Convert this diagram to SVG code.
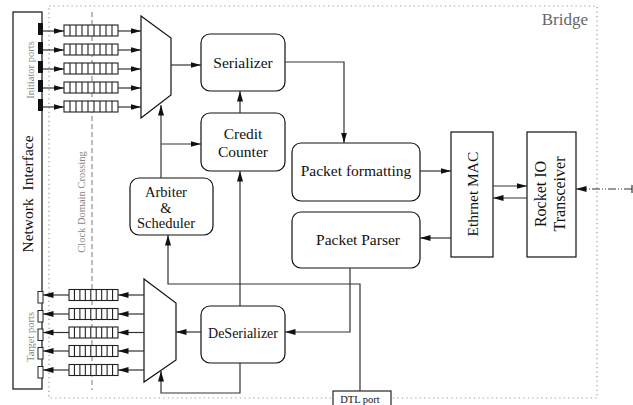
<svg xmlns="http://www.w3.org/2000/svg" width="633" height="405" viewBox="0 0 633 405">
  <style>
    .box { fill: #fff; stroke: #111; stroke-width: 1.2; }
    .wire { fill: none; stroke: #333; stroke-width: 1.2; }
    .arr { marker-end: url(#ah); }
    .lbl { font-family: "Liberation Serif", "Times New Roman", serif; fill: #111; text-anchor: middle; }
    .note { font-family: "Liberation Serif", "Times New Roman", serif; fill: #888; text-anchor: middle; }
    .frame { fill: none; stroke: #999; stroke-width: 1.2; stroke-dasharray: 1.2 3.3; }
    .q { fill: #fff; stroke: #222; stroke-width: 1.1; }
  </style>
  <defs>
    <marker id="ah" markerUnits="userSpaceOnUse" markerWidth="11" markerHeight="7" refX="10.5" refY="3" orient="auto">
      <path d="M0,0 L10.5,3 L0,6 z" fill="#111"/>
    </marker>
    <!-- initiator-side FIFO: 9 cells -->
    <g id="qi">
      <rect class="q" x="0" y="0" width="54" height="11"/>
      <path class="q" d="M6,0v11M12,0v11M18,0v11M24,0v11M30,0v11M36,0v11M42,0v11M48,0v11"/>
    </g>
    <!-- target-side FIFO: 9 cells -->
    <g id="qt">
      <rect class="q" x="0" y="0" width="49" height="11"/>
      <path class="q" d="M5.44,0v11M10.89,0v11M16.33,0v11M21.78,0v11M27.22,0v11M32.67,0v11M38.11,0v11M43.56,0v11"/>
    </g>
  </defs>

  <!-- bridge boundary -->
  <g id="bridge">
    <rect class="frame" x="49" y="6" width="548" height="392"/>
    <text x="588" y="25" font-family="Liberation Serif, serif" font-size="17" fill="#666" text-anchor="end">Bridge</text>
  </g>

  <!-- clock domain crossing -->
  <g id="cdc">
    <line x1="92" y1="12" x2="92" y2="390" stroke="#999" stroke-width="1.3" stroke-dasharray="5 3"/>
    <text class="note" font-size="10.5" transform="translate(84.5,202) rotate(-90)">Clock Domain Crossing</text>
  </g>

  <!-- network interface -->
  <g id="network-interface">
    <rect class="box" x="13" y="12" width="29" height="377"/>
    <text class="lbl" font-size="15.5" transform="translate(32.5,194) rotate(-90)" xml:space="preserve">Network  Interface</text>
    <text class="note" font-size="10.5" transform="translate(33.5,70) rotate(-90)">Initiator ports</text>
    <text class="note" font-size="10.5" transform="translate(33.5,337) rotate(-90)">Target ports</text>
    <!-- initiator ports -->
    <rect x="38" y="23" width="5" height="12" fill="#111"/>
    <rect x="38" y="42" width="5" height="12" fill="#111"/>
    <rect x="38" y="61" width="5" height="12" fill="#111"/>
    <rect x="38" y="80" width="5" height="12" fill="#111"/>
    <rect x="38" y="99" width="5" height="12" fill="#111"/>
    <!-- target ports -->
    <rect x="38" y="291.5" width="5" height="11.5" fill="#fff" stroke="#222" stroke-width="1"/>
    <rect x="38" y="310.5" width="5" height="11.5" fill="#fff" stroke="#222" stroke-width="1"/>
    <rect x="38" y="329" width="5" height="11.5" fill="#fff" stroke="#222" stroke-width="1"/>
    <rect x="38" y="347.5" width="5" height="11.5" fill="#fff" stroke="#222" stroke-width="1"/>
    <rect x="38" y="366.5" width="5" height="11.5" fill="#fff" stroke="#222" stroke-width="1"/>
  </g>

  <!-- initiator FIFOs -->
  <g id="init-fifos">
    <use href="#qi" x="64" y="25"/>
    <use href="#qi" x="64" y="44"/>
    <use href="#qi" x="64" y="63"/>
    <use href="#qi" x="64" y="82"/>
    <use href="#qi" x="64" y="101"/>
  </g>

  <!-- target FIFOs -->
  <g id="target-fifos">
    <use href="#qt" x="69" y="289.5"/>
    <use href="#qt" x="69" y="308.5"/>
    <use href="#qt" x="69" y="327"/>
    <use href="#qt" x="69" y="345.5"/>
    <use href="#qt" x="69" y="364.5"/>
  </g>

  <g id="mux">
    <polygon class="box" points="141,16 171,38 171,95 141,118"/>
  </g>
  <g id="demux">
    <polygon class="box" points="144,279 176,303 176,360 144,382"/>
  </g>

  <g id="serializer">
    <rect class="box" x="201" y="34" width="84" height="57" rx="9"/>
    <text class="lbl" font-size="15.5" x="243" y="68">Serializer</text>
  </g>
  <g id="credit-counter">
    <rect class="box" x="201" y="113" width="84" height="58" rx="9"/>
    <text class="lbl" font-size="15.5" x="243" y="139">Credit</text>
    <text class="lbl" font-size="15.5" x="243" y="157">Counter</text>
  </g>
  <g id="arbiter">
    <rect class="box" x="130" y="178" width="83" height="57" rx="9"/>
    <text class="lbl" font-size="14.5" x="166" y="197">Arbiter</text>
    <text class="lbl" font-size="14.5" x="166" y="213">&amp;</text>
    <text class="lbl" font-size="14.5" x="166" y="228">Scheduler</text>
  </g>
  <g id="deserializer">
    <rect class="box" x="201" y="306" width="84" height="57" rx="9"/>
    <text class="lbl" font-size="14" x="243" y="338">DeSerializer</text>
  </g>
  <g id="packet-formatting">
    <rect class="box" x="292" y="143" width="128" height="58" rx="9"/>
    <text class="lbl" font-size="15.5" x="356" y="176">Packet formatting</text>
  </g>
  <g id="packet-parser">
    <rect class="box" x="292" y="212" width="128" height="56" rx="9"/>
    <text class="lbl" font-size="15.5" x="358" y="245">Packet Parser</text>
  </g>
  <g id="ethernet-mac">
    <rect class="box" x="451" y="132" width="42" height="125"/>
    <text class="lbl" font-size="15.5" transform="translate(477.5,194) rotate(-90)">Ethrnet MAC</text>
  </g>
  <g id="rocket-io">
    <rect class="box" x="527" y="132" width="49" height="125"/>
    <text class="lbl" font-size="16" transform="translate(545.5,194) rotate(-90)">Rocket IO</text>
    <text class="lbl" font-size="16" transform="translate(564.5,194) rotate(-90)">Transceiver</text>
  </g>
  <g id="dtl-port">
    <rect x="333" y="391" width="58" height="16" fill="#fff" stroke="#111" stroke-width="1.1"/>
    <text class="lbl" font-size="10.5" x="360" y="403">DTL port</text>
  </g>

  <g id="connectors">
    <!-- initiator ports to FIFOs -->
    <path class="wire arr" d="M43,31H64"/>
    <path class="wire arr" d="M43,50H64"/>
    <path class="wire arr" d="M43,69H64"/>
    <path class="wire arr" d="M43,88H64"/>
    <path class="wire arr" d="M43,107H64"/>
    <!-- FIFOs to mux -->
    <path class="wire arr" d="M118,31H141"/>
    <path class="wire arr" d="M118,50H141"/>
    <path class="wire arr" d="M118,69H141"/>
    <path class="wire arr" d="M118,88H141"/>
    <path class="wire arr" d="M118,107H141"/>
    <!-- mux to serializer -->
    <path class="wire arr" d="M171,65H201"/>
    <!-- serializer to packet formatting -->
    <path class="wire arr" d="M285,62H344V143"/>
    <!-- credit counter to serializer -->
    <path class="wire arr" d="M240,113V91"/>
    <!-- arbiter to mux select and credit counter -->
    <path class="wire arr" d="M161,178V105"/>
    <path class="wire arr" d="M161,144H201"/>
    <!-- DTL port to arbiter -->
    <path class="wire arr" d="M360,391V284H168V235"/>
    <!-- deserializer to credit counter -->
    <path class="wire arr" d="M240,306V171"/>
    <!-- packet parser to deserializer -->
    <path class="wire arr" d="M350,268V332H285"/>
    <!-- deserializer to demux -->
    <path class="wire arr" d="M201,332H176"/>
    <path class="wire arr" d="M240,363V393H161V371"/>
    <!-- demux to target FIFOs -->
    <path class="wire arr" d="M144,295H118"/>
    <path class="wire arr" d="M144,314H118"/>
    <path class="wire arr" d="M144,332.5H118"/>
    <path class="wire arr" d="M144,351H118"/>
    <path class="wire arr" d="M144,370H118"/>
    <!-- target FIFOs to ports -->
    <path class="wire arr" d="M69,295H43"/>
    <path class="wire arr" d="M69,314H43"/>
    <path class="wire arr" d="M69,332.5H43"/>
    <path class="wire arr" d="M69,351H43"/>
    <path class="wire arr" d="M69,370H43"/>
    <!-- packet path to/from MAC -->
    <path class="wire arr" d="M420,171H451"/>
    <path class="wire arr" d="M451,238H420"/>
    <path class="wire arr" d="M493,186H527"/>
    <path class="wire arr" d="M527,198H493"/>
    <!-- external link -->
    <path class="wire arr" d="M632,189H576" stroke-dasharray="8 2 1 2 1 2"/>
    <path class="wire" d="M632,185V193"/>
  </g>
</svg>
